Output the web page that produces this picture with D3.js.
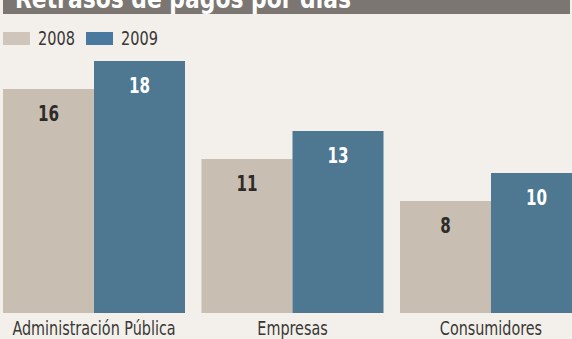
<!DOCTYPE html>
<head>
  <meta charset="utf-8">
  <script src="https://d3js.org/d3.v7.min.js"></script>
  <style>
    body { margin: 0; background: #f3f0ec; }
    svg { display: block; }
    .title { font: bold 26px "DejaVu Sans", sans-serif; fill: #fff; }
    .legend-label { font: 19px "DejaVu Sans Condensed", sans-serif; fill: #3a3835; }
    .cat-label { font: 19px "DejaVu Sans Condensed", sans-serif; fill: #3a3835; }
    .value { font: bold 21px "DejaVu Sans Condensed", sans-serif; }
  </style>
</head>
<body>
<script>
var categories = ['Administración Pública', 'Empresas', 'Consumidores'];
var years = ['2008', '2009'];
var values2008 = [16, 11, 8];
var values2009 = [18, 13, 10];
var titleText = 'Retrasos de pagos por días';

var width = 572
var height = 339

var color = { '2008': '#c8beb2', '2009': '#4e7791' };
var legendColor = { '2008': '#cfc5ba', '2009': '#4a79a0' };

var svg = d3.select('body').append('svg')
  .attr('width', width)
  .attr('height', height);

// narrow the glyphs a little, the print uses a condensed face
function squeeze(sel, k) {
  sel.each(function() {
    var w = this.getComputedTextLength();
    d3.select(this)
      .attr('textLength', w * k)
      .attr('lengthAdjust', 'spacingAndGlyphs');
  });
}

// title band, cut off at the top of the picture
svg.append('rect')
  .attr('x', 3).attr('y', 0)
  .attr('width', 567).attr('height', 14)
  .attr('fill', '#7b7671');
svg.append('text')
  .attr('class', 'title')
  .attr('x', 15).attr('y', 8)
  .attr('textLength', 336)
  .attr('lengthAdjust', 'spacingAndGlyphs')
  .text(titleText);

// legend
var legend = svg.selectAll('.legend')
  .data(years)
  .enter().append('g')
  .attr('class', 'legend')
  .attr('transform', function(d, i) { return 'translate(' + (3 + i * 83) + ',32)'; });
legend.append('rect')
  .attr('width', 27).attr('height', 13)
  .attr('fill', function(d) { return legendColor[d]; });
legend.append('text')
  .attr('class', 'legend-label')
  .attr('x', 35).attr('y', 13)
  .text(function(d) { return d; })
  .call(squeeze, 0.85);

var data = categories.map(function(c, i) {
  return { cat: c, '2008': values2008[i], '2009': values2009[i] };
});

var x0 = d3.scaleBand()
  .domain(categories)
  .range([3, 582])
  .paddingInner(0.083)
  .paddingOuter(0);

var x1 = d3.scaleBand()
  .domain(years)
  .range([0, x0.bandwidth()]);

var y = d3.scaleLinear()
  .domain([0, 18])
  .range([313, 61]);

var groups = svg.selectAll('.group')
  .data(data)
  .enter().append('g')
  .attr('class', 'group')
  .attr('transform', function(d) { return 'translate(' + x0(d.cat) + ',0)'; });

groups.selectAll('rect')
  .data(function(d) { return years.map(function(k) { return { key: k, value: d[k] }; }); })
  .enter().append('rect')
  .attr('x', function(d) { return x1(d.key); })
  .attr('y', function(d) { return y(d.value); })
  .attr('width', x1.bandwidth())
  .attr('height', function(d) { return y(0) - y(d.value); })
  .attr('fill', function(d) { return color[d.key]; });

groups.selectAll('.value')
  .data(function(d) { return years.map(function(k) { return { key: k, value: d[k] }; }); })
  .enter().append('text')
  .attr('class', 'value')
  .attr('text-anchor', 'middle')
  .attr('x', function(d) { return x1(d.key) + x1.bandwidth() / 2; })
  .attr('y', function(d) { return y(d.value) + 32; })
  .attr('fill', function(d) { return d.key === '2008' ? '#2e2c29' : '#fff'; })
  .text(function(d) { return d.value; })
  .call(squeeze, 0.8);

// category labels sit under the middle of each pair
groups.append('text')
  .attr('class', 'cat-label')
  .attr('text-anchor', 'middle')
  .attr('x', x0.bandwidth() / 2)
  .attr('y', 335)
  .text(function(d) { return d.cat; })
  .call(squeeze, 0.84);
</script>
</body>
